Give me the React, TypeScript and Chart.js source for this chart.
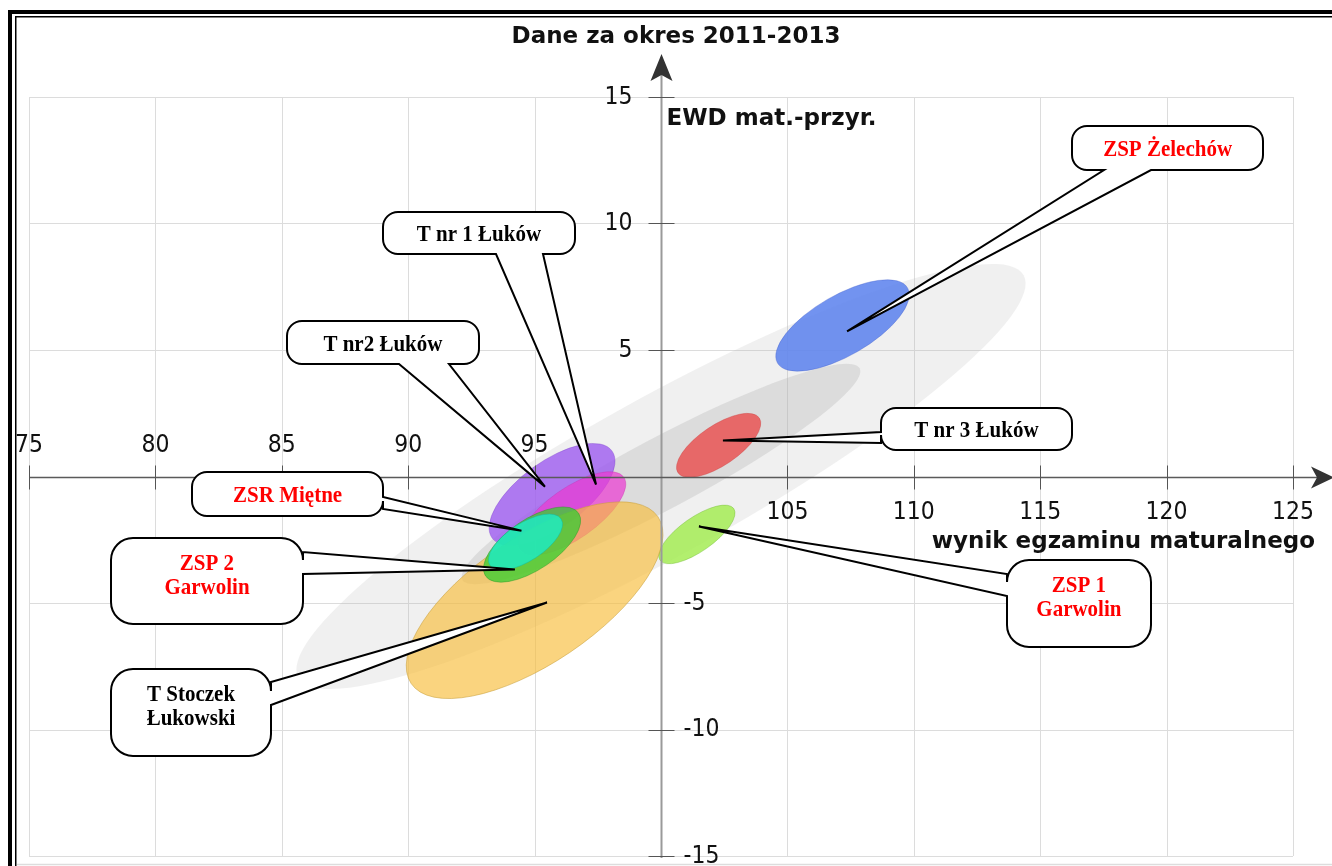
import React, { useEffect, useRef } from 'react';
import { Chart, registerables } from 'chart.js';

Chart.register(...registerables);

// ---------- texts ----------
const TITLE = 'Dane za okres 2011-2013';
const X_TITLE = 'wynik egzaminu maturalnego';
const Y_TITLE = 'EWD mat.-przyr.';

// ---------- axes ----------
const X_TICKS = [75, 80, 85, 90, 95, 100, 105, 110, 115, 120, 125];
const Y_TICKS = [-15, -10, -5, 0, 5, 10, 15];

// ---------- ellipses (drawn in this order) ----------
const ELLIPSE_NAMES = [
  'szkoły - zakres szeroki',
  'szkoły - zakres wąski',
  'ZSP Żelechów',
  'T nr 3 Łuków',
  'ZSP 1 Garwolin',
  'T nr2 Łuków',
  'T nr 1 Łuków',
  'T Stoczek Łukowski',
  'ZSP 2 Garwolin',
  'ZSR Miętne',
];
const ELLIPSE_X = [100, 100, 107.18, 102.28, 101.42, 95.69, 96.48, 95.0, 94.9, 94.64];
const ELLIPSE_Y = [0, 0.1, 5.97, 1.23, -2.29, -0.71, -1.46, -4.89, -2.69, -2.59];
const ELLIPSE_A = [16.4, 8.9, 2.97, 1.94, 1.78, 2.93, 2.5, 5.89, 2.22, 1.68];
const ELLIPSE_B = [3.1, 1.4, 1.19, 0.79, 0.67, 1.3, 1.0, 2.49, 0.99, 0.74];
const ELLIPSE_TILT = [29, 28, 30, 34, 35, 36, 35, 34, 34, 33];

// ---------- callout labels ----------
const LABELS = [
  'ZSP Żelechów',
  'T nr 1 Łuków',
  'T nr2 Łuków',
  'T nr 3 Łuków',
  'ZSP 1\nGarwolin',
  'ZSR Miętne',
  'ZSP 2\nGarwolin',
  'T Stoczek\nŁukowski',
];
const LABEL_X = [107.36, 97.43, 95.41, 102.45, 101.5, 94.48, 94.22, 95.49];
const LABEL_Y = [5.74, -0.32, -0.4, 1.42, -1.98, -2.14, -3.68, -4.98];

// ---------- styles / layout ----------
const ELLIPSE_FILL = [
  'rgba(185,185,185,0.22)',
  'rgba(175,175,175,0.30)',
  'rgba(95,132,238,0.88)',
  'rgba(232,88,88,0.88)',
  'rgba(165,236,85,0.85)',
  'rgba(160,95,240,0.82)',
  'rgba(236,60,210,0.72)',
  'rgba(248,190,60,0.66)',
  'rgba(60,205,50,0.78)',
  'rgba(25,238,205,0.78)',
];
const ELLIPSE_EDGE = [
  'rgba(0,0,0,0)',
  'rgba(0,0,0,0)',
  'rgba(60,90,200,0.35)',
  'rgba(200,60,60,0.35)',
  'rgba(120,190,60,0.45)',
  'rgba(120,60,200,0.35)',
  'rgba(200,40,170,0.35)',
  'rgba(200,160,60,0.55)',
  'rgba(40,150,40,0.45)',
  'rgba(20,180,160,0.45)',
];

const RED = '#ff0000';
const BLACK = '#000000';
// box centre in data units, size & wedge base offsets in px
const CALLOUT_LAYOUT = [
  { cx: 120.04, cy: 12.97, w: 191, h: 44, side: 'bottom', b1: 32, b2: 79, color: RED },
  { cx: 92.8, cy: 9.61, w: 192, h: 42, side: 'bottom', b1: 113, b2: 160, color: BLACK },
  { cx: 89.0, cy: 5.28, w: 192, h: 43, side: 'bottom', b1: 112, b2: 162, color: BLACK },
  { cx: 112.48, cy: 1.86, w: 191, h: 42, side: 'left', b1: 24, b2: 35, color: BLACK },
  { cx: 116.53, cy: -5.0, w: 144, h: 87, side: 'left', b1: 14, b2: 36, color: RED },
  { cx: 85.23, cy: -0.71, w: 191, h: 44, side: 'right', b1: 25, b2: 37, color: RED },
  { cx: 82.04, cy: -4.15, w: 192, h: 86, side: 'right', b1: 14, b2: 36, color: RED },
  { cx: 81.41, cy: -9.32, w: 160, h: 87, side: 'right', b1: 13, b2: 36, color: BLACK },
];

const TICK_FONT = "25px 'DejaVu Sans'";
const TITLE_FONT = "bold 23px 'DejaVu Sans'";
const CALLOUT_FONT = "bold 21px 'Liberation Serif', 'Times New Roman', serif";

function drawText(
  ctx: CanvasRenderingContext2D,
  text: string,
  x: number,
  y: number,
  font: string,
  color: string,
  align: CanvasTextAlign,
  baseline: CanvasTextBaseline,
  sx = 1,
  sy = 1
) {
  ctx.save();
  ctx.font = font;
  ctx.fillStyle = color;
  ctx.textAlign = align;
  ctx.textBaseline = baseline;
  ctx.translate(x, y);
  ctx.scale(sx, sy);
  ctx.fillText(text, 0, 0);
  ctx.restore();
}

function calloutPath(
  ctx: CanvasRenderingContext2D,
  L: number,
  T: number,
  W: number,
  H: number,
  r: number,
  side: string,
  b1: number,
  b2: number,
  tx: number,
  ty: number
) {
  const R = L + W;
  const B = T + H;
  ctx.beginPath();
  ctx.moveTo(L + r, T);
  if (side === 'top') {
    ctx.lineTo(L + b1, T);
    ctx.lineTo(tx, ty);
    ctx.lineTo(L + b2, T);
  }
  ctx.lineTo(R - r, T);
  ctx.arcTo(R, T, R, T + r, r);
  if (side === 'right') {
    ctx.lineTo(R, T + b1);
    ctx.lineTo(tx, ty);
    ctx.lineTo(R, T + b2);
  }
  ctx.lineTo(R, B - r);
  ctx.arcTo(R, B, R - r, B, r);
  if (side === 'bottom') {
    ctx.lineTo(L + b2, B);
    ctx.lineTo(tx, ty);
    ctx.lineTo(L + b1, B);
  }
  ctx.lineTo(L + r, B);
  ctx.arcTo(L, B, L, B - r, r);
  if (side === 'left') {
    ctx.lineTo(L, T + b2);
    ctx.lineTo(tx, ty);
    ctx.lineTo(L, T + b1);
  }
  ctx.lineTo(L, T + r);
  ctx.arcTo(L, T, L + r, T, r);
  ctx.closePath();
}

const ewdPlugin = {
  id: 'ewdPlugin',
  beforeDatasetsDraw(chart: any) {
    const { ctx, chartArea: ca, scales } = chart;
    const x = scales.x;
    const y = scales.y;
    ctx.save();
    // frame
    ctx.strokeStyle = '#000';
    ctx.lineWidth = 4;
    ctx.strokeRect(10, 12, chart.width + 40, chart.height + 40);
    ctx.lineWidth = 1.5;
    ctx.strokeRect(15.75, 16.75, chart.width + 40, chart.height + 40);
    ctx.strokeStyle = '#dddddd';
    ctx.lineWidth = 1.5;
    ctx.beginPath();
    ctx.moveTo(17, chart.height - 1.5);
    ctx.lineTo(chart.width, chart.height - 1.5);
    ctx.stroke();

    // grid
    ctx.strokeStyle = '#dcdcdc';
    ctx.lineWidth = 1;
    ctx.beginPath();
    X_TICKS.forEach((v) => {
      const px = Math.round(x.getPixelForValue(v)) + 0.5;
      ctx.moveTo(px, ca.top);
      ctx.lineTo(px, ca.bottom);
    });
    Y_TICKS.forEach((v) => {
      const py = Math.round(y.getPixelForValue(v)) + 0.5;
      ctx.moveTo(ca.left, py);
      ctx.lineTo(ca.right, py);
    });
    ctx.stroke();
    ctx.restore();
  },
  afterDatasetsDraw(chart: any) {
    const { ctx, chartArea: ca, scales } = chart;
    const x = scales.x;
    const y = scales.y;
    const sx = x.getPixelForValue(1) - x.getPixelForValue(0);
    const sy = y.getPixelForValue(0) - y.getPixelForValue(1);

    // ellipses
    ELLIPSE_X.forEach((cx, i) => {
      ctx.save();
      ctx.translate(x.getPixelForValue(cx), y.getPixelForValue(ELLIPSE_Y[i]));
      ctx.scale(sx, -sy);
      ctx.rotate((ELLIPSE_TILT[i] * Math.PI) / 180);
      ctx.beginPath();
      ctx.ellipse(0, 0, ELLIPSE_A[i], ELLIPSE_B[i], 0, 0, Math.PI * 2);
      ctx.restore();
      ctx.save();
      ctx.fillStyle = ELLIPSE_FILL[i];
      ctx.fill();
      ctx.strokeStyle = ELLIPSE_EDGE[i];
      ctx.lineWidth = 1;
      ctx.stroke();
      ctx.restore();
    });

    // axes
    const ax = Math.round(x.getPixelForValue(100)) + 0.5;
    const ay = Math.round(y.getPixelForValue(0)) + 0.5;
    ctx.save();
    ctx.strokeStyle = '#9a9a9a';
    ctx.lineWidth = 2;
    ctx.beginPath();
    ctx.moveTo(ax, ca.bottom + 2);
    ctx.lineTo(ax, 72);
    ctx.stroke();
    ctx.strokeStyle = '#5a5a5a';
    ctx.lineWidth = 1.3;
    ctx.beginPath();
    ctx.moveTo(ca.left, ay);
    ctx.lineTo(1318, ay);
    ctx.stroke();

    // arrows
    ctx.fillStyle = '#333';
    ctx.beginPath();
    ctx.moveTo(1334, ay);
    ctx.lineTo(1311, ay - 11);
    ctx.lineTo(1317, ay);
    ctx.lineTo(1311, ay + 11);
    ctx.closePath();
    ctx.fill();
    ctx.beginPath();
    ctx.moveTo(ax, 54);
    ctx.lineTo(ax - 11, 81);
    ctx.lineTo(ax, 75);
    ctx.lineTo(ax + 11, 81);
    ctx.closePath();
    ctx.fill();

    // tick marks
    ctx.strokeStyle = '#555';
    ctx.lineWidth = 1;
    ctx.beginPath();
    X_TICKS.forEach((v) => {
      if (v === 100) return;
      const px = Math.round(x.getPixelForValue(v)) + 0.5;
      ctx.moveTo(px, ay - 12);
      ctx.lineTo(px, ay + 12);
    });
    Y_TICKS.forEach((v) => {
      if (v === 0) return;
      const py = Math.round(y.getPixelForValue(v)) + 0.5;
      ctx.moveTo(ax - 13, py);
      ctx.lineTo(ax + 13, py);
    });
    ctx.stroke();
    ctx.restore();

    // tick labels
    X_TICKS.forEach((v) => {
      if (v === 100) return;
      const px = x.getPixelForValue(v);
      if (v < 100) drawText(ctx, String(v), px, ay - 32, TICK_FONT, '#111', 'center', 'middle', 0.88);
      else drawText(ctx, String(v), px, ay + 35, TICK_FONT, '#111', 'center', 'middle', 0.88);
    });
    Y_TICKS.forEach((v) => {
      if (v === 0) return;
      const py = y.getPixelForValue(v);
      if (v > 0) drawText(ctx, String(v), ax - 29, py, TICK_FONT, '#111', 'right', 'middle', 0.88);
      else drawText(ctx, String(v), ax + 22, py, TICK_FONT, '#111', 'left', 'middle', 0.88);
    });

    // titles
    drawText(ctx, TITLE, 676, 43, TITLE_FONT, '#111', 'center', 'alphabetic');
    drawText(ctx, Y_TITLE, ax + 5, 125, TITLE_FONT, '#111', 'left', 'alphabetic');
    drawText(ctx, X_TITLE, 1315, 548, TITLE_FONT, '#111', 'right', 'alphabetic');

    // callouts
    LABELS.forEach((label, i) => {
      const lay = CALLOUT_LAYOUT[i];
      const bx = x.getPixelForValue(lay.cx);
      const by = y.getPixelForValue(lay.cy);
      const L = Math.round(bx - lay.w / 2);
      const T = Math.round(by - lay.h / 2);
      const tx = x.getPixelForValue(LABEL_X[i]);
      const ty = y.getPixelForValue(LABEL_Y[i]);
      const r = lay.h > 60 ? 22 : 15;
      ctx.save();
      calloutPath(ctx, L, T, lay.w, lay.h, r, lay.side, lay.b1, lay.b2, tx, ty);
      ctx.fillStyle = '#fff';
      ctx.fill();
      ctx.strokeStyle = '#000';
      ctx.lineWidth = 2;
      ctx.lineJoin = 'miter';
      ctx.miterLimit = 4;
      ctx.stroke();
      ctx.restore();
      const lines = label.split('\n');
      if (lines.length === 1) {
        drawText(ctx, lines[0], bx, by + 2, CALLOUT_FONT, lay.color, 'center', 'middle', 1, 1.08);
      } else {
        drawText(ctx, lines[0], bx, by - 17, CALLOUT_FONT, lay.color, 'center', 'middle', 1, 1.08);
        drawText(ctx, lines[1], bx, by + 7, CALLOUT_FONT, lay.color, 'center', 'middle', 1, 1.08);
      }
    });
  },
};

export default function App() {
  const canvasRef = useRef<HTMLCanvasElement | null>(null);

  useEffect(() => {
    const canvas = canvasRef.current;
    if (!canvas) return;
    const chart = new Chart(canvas, {
      type: 'scatter',
      data: {
        datasets: ELLIPSE_NAMES.map((name, i) => ({
          label: name,
          data: [{ x: ELLIPSE_X[i], y: ELLIPSE_Y[i] }],
          pointRadius: 0,
          backgroundColor: ELLIPSE_FILL[i],
        })),
      },
      options: {
        responsive: false,
        maintainAspectRatio: false,
        animation: false,
        devicePixelRatio: 1,
        layout: { padding: { left: 29, right: 39, top: 97, bottom: 10 } },
        scales: {
          x: { type: 'linear', min: 75, max: 125, display: false },
          y: { type: 'linear', min: -15, max: 15, display: false },
        },
        plugins: {
          legend: { display: false },
          tooltip: { enabled: false },
          title: { display: false },
        },
      },
      plugins: [ewdPlugin],
    } as any);
    return () => chart.destroy();
  }, []);

  return (
    <div style={{ position: 'absolute', left: 0, top: 0, width: 1332, height: 866, background: '#fff', overflow: 'hidden' }}>
      <canvas ref={canvasRef} width={1332} height={866} style={{ display: 'block' }} />
    </div>
  );
}
